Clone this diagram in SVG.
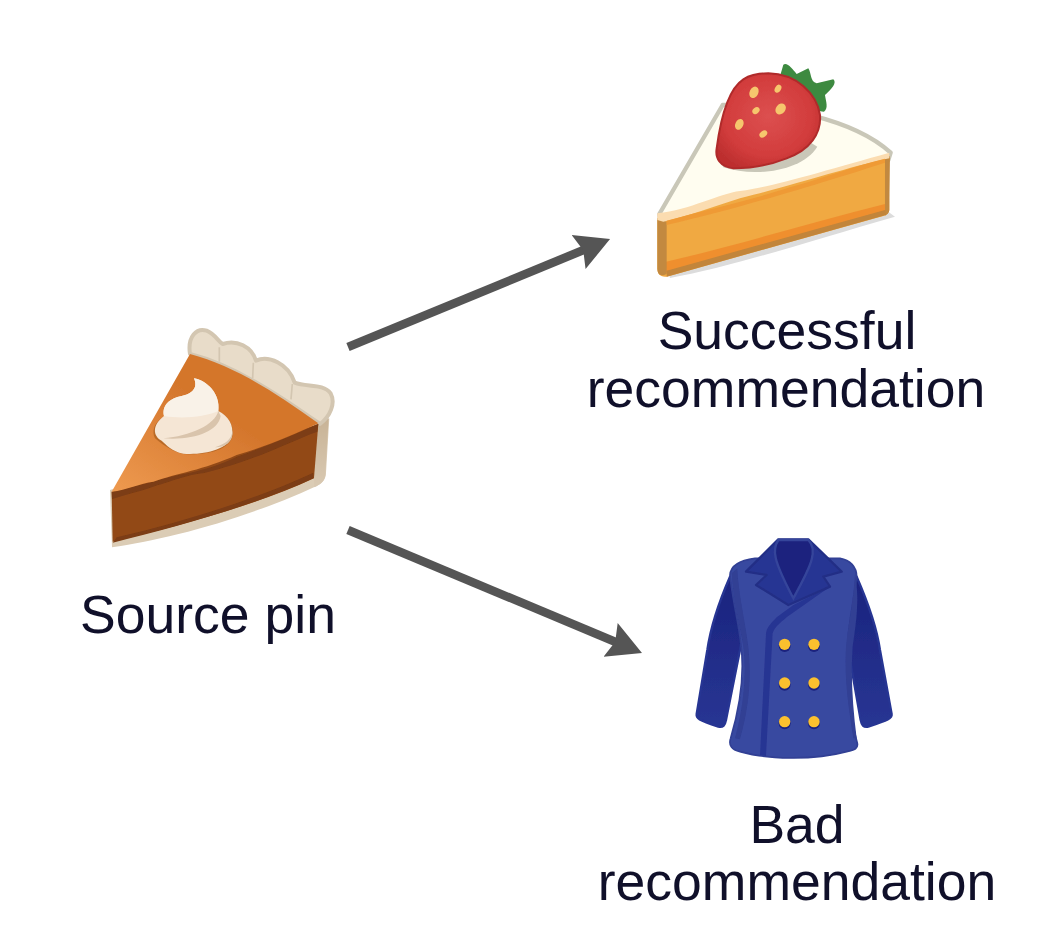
<svg xmlns="http://www.w3.org/2000/svg" width="1042" height="930" viewBox="0 0 1042 930">
<style>
.lbl{font-family:"Liberation Sans",Arial,sans-serif;font-size:53.5px;fill:#10102a;text-anchor:middle}
.arrow{fill:none;stroke:#555;stroke-width:8.6;marker-end:url(#head)}
.icon{filter:url(#soft)}
</style>
<defs>
<marker id="head" markerUnits="userSpaceOnUse" markerWidth="40" markerHeight="40" refX="8" refY="20" orient="auto"><path d="M0,1.7 L34,20 L0,38.3 L5,20 Z" fill="#555"/></marker>
<filter id="soft" x="-5%" y="-5%" width="110%" height="110%"><feGaussianBlur stdDeviation="1.8"/></filter>
<linearGradient id="pieTop" x1="0" y1="1" x2="1" y2="0"><stop offset="0" stop-color="#ee9a50"/><stop offset=".55" stop-color="#d4762c"/><stop offset="1" stop-color="#d4762c"/></linearGradient>
<radialGradient id="straw" cx=".5" cy=".45" r=".6"><stop offset="0" stop-color="#dc5050"/><stop offset=".7" stop-color="#d23c3c"/><stop offset="1" stop-color="#bd2f2f"/></radialGradient>
<linearGradient id="sleeve" x1="0" y1="0" x2="0" y2="1"><stop offset="0" stop-color="#1a237e"/><stop offset="1" stop-color="#283593"/></linearGradient>
<linearGradient id="rim" x1="0" y1="0" x2="0" y2="1"><stop offset="0" stop-color="#c8b396"/><stop offset="1" stop-color="#d9c9b2"/></linearGradient>
</defs>
<rect width="1042" height="930" fill="#fff"/>
<g id="connectors">
<line class="arrow" x1="348" y1="347" x2="586" y2="249"/>
<line class="arrow" x1="348" y1="530" x2="618" y2="643"/>
</g>
<g id="source">
<g transform="translate(90,310) scale(.3333)" class="icon">
<path d="M66,712 C220,690 460,630 680,528 C700,518 708,505 708,490 L718,325 L690,340 L60,540 Z" fill="#dbccb5"/>
<path d="M690,340 L716,325 L706,495 C704,515 690,525 672,532 L672,340 Z" fill="url(#rim)"/>
<path d="M300,132 C292,80 320,52 350,62 C375,72 385,95 398,102 C440,88 485,110 498,152 C535,135 595,160 614,218 C650,232 700,220 722,250 C738,280 720,320 690,342 C560,250 430,165 300,132 Z" fill="#e8dcc9" stroke="#d3c6b1" stroke-width="12" stroke-linejoin="round"/>
<path d="M388,112 L388,155 M490,158 L488,205 M607,222 L603,268" stroke="#d3c6b1" stroke-width="5" fill="none"/>
<path d="M65,545 L685,342 L672,505 C500,585 260,650 68,695 Z" fill="#924a17"/>
<path d="M80,682 C280,635 480,575 670,488 L670,505 C500,585 260,650 68,698 Z" fill="#7c3c12"/>
<path d="M65,545 L190,515 C260,490 340,490 440,440 C530,410 620,370 685,342 L682,365 C600,395 500,450 340,490 C290,495 260,510 190,530 C150,545 100,555 66,568 Z" fill="#7c3c12"/>
<path d="M300,132 C430,165 560,250 685,340 C620,370 530,410 440,435 C340,480 260,490 190,515 C150,520 110,540 65,545 Z" fill="url(#pieTop)"/>
<path d="M195,385 C225,410 250,425 280,432 C340,436 420,425 428,375 C432,345 415,318 388,305 L380,300 L220,320 C190,340 185,365 195,385 Z" fill="#b96a28"/>
<path d="M312,205 C350,212 392,250 385,303 C415,318 432,345 426,378 C415,418 340,436 280,431 C245,424 230,405 215,392 C188,378 186,345 222,318 C215,285 240,265 275,258 C305,252 325,235 312,205 Z" fill="#f5e6d5"/>
<path d="M312,205 C350,212 392,250 385,303 C345,320 280,328 222,318 C215,285 240,265 275,258 C305,252 325,235 312,205 Z" fill="#f9f2e8"/>
<path d="M385,303 C375,345 300,378 220,385 C310,392 385,365 392,318 Z M428,360 C425,390 405,402 375,412 C405,412 430,398 428,360 Z" fill="#d9c4ac"/>
</g>
<text class="lbl" x="208" y="633">Source pin</text>
</g>
<g id="success">
<g transform="translate(640,50) scale(.3333)" class="icon">
<path d="M90,684 C280,650 520,570 765,500 L745,485 L80,660 Z" fill="#dcdcdc"/>
<path d="M58,492 L248,165 C400,160 640,205 752,308 L745,330 L60,510 Z" fill="#fffdf0" stroke="#c9c7b8" stroke-width="13" stroke-linejoin="round"/>
<path d="M52,505 L745,320 L748,478 C748,490 740,495 730,498 L80,680 C60,682 52,672 52,655 Z" fill="#f0a942"/>
<path d="M78,635 C280,590 500,520 735,462 L735,490 L78,668 Z" fill="#ef8f2f"/>
<path d="M52,505 L80,515 L80,672 C60,682 52,672 52,655 Z M735,328 L750,318 L748,478 C748,490 740,495 735,497 Z" fill="#c2893f"/>
<path d="M80,662 L735,480 L738,495 L80,680 Z" fill="#c2853a"/>
<path d="M52,490 C150,480 240,430 300,423 C400,410 560,360 748,308 L748,325 C600,358 500,395 300,445 C220,470 140,500 70,515 L52,510 Z" fill="#fbdcb0"/>
<path d="M80,512 C200,478 300,460 450,412 C560,382 650,345 735,326 L735,338 C600,382 300,475 80,525 Z" fill="#ef9a35"/>
<path d="M250,352 C350,385 490,360 532,290 L500,270 L240,330 Z" fill="#c9c7b8"/>
<path d="M422,72 L430,44 C442,36 458,58 470,72 L505,55 C515,70 510,95 530,100 L580,88 C592,98 575,118 555,135 C558,155 566,175 552,185 C535,185 520,170 505,155 Z" fill="#3e8a41"/>
<path d="M385,70 C470,72 530,130 540,195 C545,250 510,300 440,325 C390,345 330,355 280,355 C240,350 225,325 230,295 C240,220 260,120 310,88 C330,75 355,70 385,70 Z" fill="url(#straw)" stroke="#b02a2a" stroke-width="6"/>
<g fill="#f6c66d"><ellipse cx="342" cy="127" rx="13" ry="18" transform="rotate(25 342 127)"/><ellipse cx="414" cy="116" rx="9" ry="13" transform="rotate(30 414 116)"/><ellipse cx="348" cy="182" rx="9" ry="12" transform="rotate(50 348 182)"/><ellipse cx="422" cy="177" rx="14" ry="18" transform="rotate(40 422 177)"/><ellipse cx="298" cy="223" rx="12" ry="17" transform="rotate(25 298 223)"/><ellipse cx="370" cy="252" rx="9" ry="13" transform="rotate(55 370 252)"/></g>
</g>
<text class="lbl" x="787" y="349">Successful</text>
<text class="lbl" x="786" y="407">recommendation</text>
</g>
<g id="bad">
<g transform="translate(680,530) scale(.3333)" class="icon">
<path d="M150,140 C115,220 92,290 82,360 L50,552 C48,565 55,570 115,590 C130,593 135,585 138,570 L180,360 L200,250 Z" fill="url(#sleeve)" stroke="#283593" stroke-width="7" stroke-linejoin="round"/>
<path d="M530,140 C565,220 590,290 600,360 L635,552 C637,565 625,570 565,590 C550,593 545,585 542,570 L505,360 L480,250 Z" fill="url(#sleeve)" stroke="#283593" stroke-width="7" stroke-linejoin="round"/>
<path d="M150,135 C152,105 185,90 225,85 L480,85 C510,90 530,110 530,140 C520,220 505,280 503,345 C500,450 510,560 532,640 C535,655 525,660 500,665 C400,692 260,688 180,665 C155,660 145,645 152,625 C180,530 195,440 183,345 C175,270 155,200 150,135 Z" fill="#3949a0" stroke="#303f94" stroke-width="5"/>
<path d="M155,130 C160,220 180,290 190,350 C200,440 190,530 165,625 L180,628 C208,530 215,440 205,350 C195,270 175,190 172,115 Z M525,130 C520,220 505,280 498,350 C492,440 505,530 520,625 L530,625 C518,530 512,440 518,350 C528,280 540,210 525,130 Z" fill="#303f94"/>
<path d="M340,225 L290,262 C270,282 260,295 258,310 L240,675 L258,678 L278,310 C285,290 300,280 320,262 L450,170 Z" fill="#283593"/>
<path d="M295,28 L385,28 L485,125 L430,140 L450,170 L325,225 L228,165 L260,135 L198,125 Z" fill="#283593" stroke="#232f86" stroke-width="7" stroke-linejoin="round"/>
<path d="M295,30 C275,60 280,90 340,205 C395,105 415,60 385,30 Z" fill="#1a237e" stroke="#35459b" stroke-width="7"/>
<g fill="#1a237e"><circle cx="314" cy="348" r="18"/><circle cx="402" cy="348" r="18"/><circle cx="314" cy="464" r="18"/><circle cx="402" cy="464" r="18"/><circle cx="314" cy="580" r="18"/><circle cx="402" cy="580" r="18"/></g>
<g fill="#fbc02d"><circle cx="314" cy="343" r="17"/><circle cx="402" cy="343" r="17"/><circle cx="314" cy="459" r="17"/><circle cx="402" cy="459" r="17"/><circle cx="314" cy="575" r="17"/><circle cx="402" cy="575" r="17"/></g>
</g>
<text class="lbl" x="797" y="843">Bad</text>
<text class="lbl" x="797" y="900">recommendation</text>
</g>
</svg>
